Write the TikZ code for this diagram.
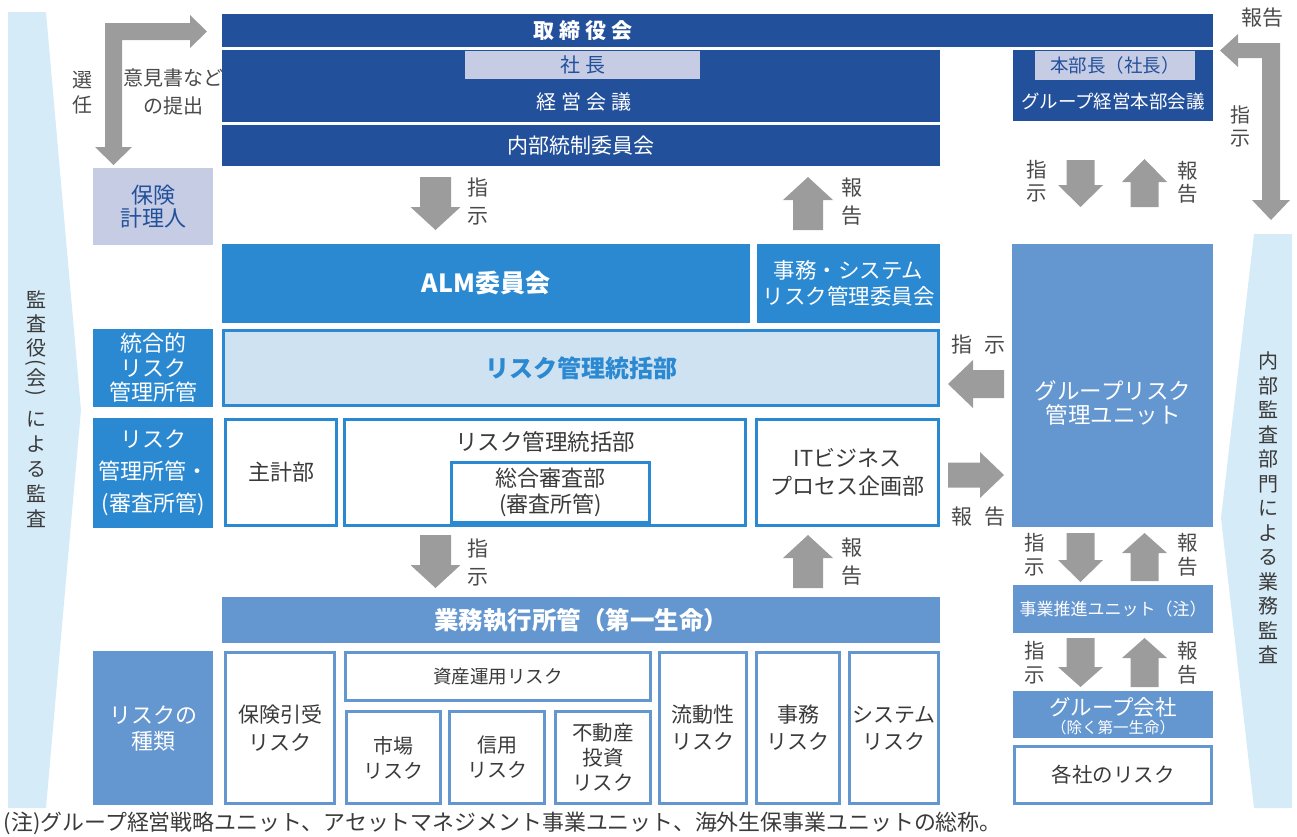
\documentclass[tikz,border=0pt]{standalone}
\usepackage{fontspec}
\setmainfont{Noto Sans CJK JP}
\newfontfamily\jpsp[LetterSpace=25]{Noto Sans CJK JP}
\definecolor{navy}{HTML}{23509B}
\definecolor{lav}{HTML}{C5CCE3}
\definecolor{bblue}{HTML}{2B89D2}
\definecolor{pale}{HTML}{CFE2F2}
\definecolor{mblue}{HTML}{6496D0}
\definecolor{garrc}{HTML}{9B9C9B}
\definecolor{bandc}{HTML}{D6EBF8}
\definecolor{tgray}{HTML}{3A3A3A}
\definecolor{lgray}{HTML}{4A4A4A}
\newcommand\fs[2]{\fontsize{#1}{#2}\selectfont}
\newcommand\bx[7]{\node[#6,anchor=north west,minimum width={#4-#2},minimum height={#5-#3}] (#1) at (#2,#3) {#7};}
\newcommand\bw[7]{\node[#6,anchor=north west,minimum width={#4-#2-3},minimum height={#5-#3-3}] (#1) at (#2,#3) {#7};}
\newcommand\varr[6]{\fill[garrow] (#1-#5,#2) -- (#1+#5,#2) -- (#1+#5,#3) -- (#1+#6,#3) -- (#1,#4) -- (#1-#6,#3) -- (#1-#5,#3) -- cycle;}
\newcommand\harr[6]{\fill[garrow] (#2,#1-#5) -- (#2,#1+#5) -- (#3,#1+#5) -- (#3,#1+#6) -- (#4,#1) -- (#3,#1-#6) -- (#3,#1-#5) -- cycle;}
\tikzset{
  base/.style={inner sep=0pt,outer sep=0pt,align=center},
  navybox/.style={base,fill=navy,text=white},
  lavbox/.style={base,fill=lav,text=navy},
  bbox/.style={base,fill=bblue,text=white},
  mbox/.style={base,fill=mblue,text=white},
  pbox/.style={base,draw=bblue,line width=3pt,outer sep=1.5pt,fill=pale,text=bblue},
  wbox/.style={base,draw=bblue,line width=3pt,outer sep=1.5pt,fill=white,text=tgray},
  wmbox/.style={base,draw=mblue,line width=3pt,outer sep=1.5pt,fill=white,text=tgray},
  wt/.style={base,text=white},
  lbl/.style={base,text=lgray},
  vch/.style={base,text=tgray,font=\fs{20}{24}},
  garrow/.style={fill=garrc},
  bandfill/.style={fill=bandc}
}
\begin{document}
\begin{tikzpicture}[x=1pt,y=-1pt]
\useasboundingbox (0,0) rectangle (1297,836);
% side bands
\fill[bandfill] (8,12) -- (46,12) -- (81,410) -- (46,808) -- (8,808) -- cycle;
\fill[bandfill] (1254,234) -- (1292,234) -- (1292,808) -- (1254,808) -- (1221,518) -- cycle;
\foreach \ch/\yy [count=\i] in {監/300,査/324,役/348,会/378,に/419,よ/444,る/469,監/494,査/519}
  \node[vch] (kansa\i) at (36,\yy) {\ch};
\node[vch,rotate=-90] (kansaL) at (36,363) {(};
\node[vch,rotate=-90] (kansaR) at (36,393) {)};
\node[base,text=tgray,font=\fs{20}{24.5}] (naibukansa) at (1268,508) {内\\部\\監\\査\\部\\門\\に\\よ\\る\\業\\務\\監\\査};
% top
\bx{torishimari}{222}{14}{1213}{47}{navybox}{}
\node[wt,font=\jpsp\bfseries\fs{21}{25}] (torit) at (583,31) {取締役会};
\bx{keiei}{222}{50}{940}{122}{navybox}{}
\bx{shacho}{465}{51}{700}{79}{lavbox,font=\jpsp\fs{20}{24}}{社長}
\node[wt,font=\jpsp\fs{20}{24}] (keieit) at (584,102) {経営会議};
\bx{naibu}{222}{125}{940}{166}{navybox,font=\fs{21}{24}}{内部統制委員会}
\bx{honbu}{1013}{50}{1213}{121}{navybox}{}
\bx{honbucho}{1035}{51}{1195}{80}{lavbox,font=\fs{18.5}{22}}{本部長（社長）}
\node[wt,font=\fs{18.5}{21}] (honbut) at (1113,102) {グループ経営本部会議};
\bx{hoken}{93}{168}{213}{245}{lavbox,font=\fs{22}{23.5}}{保険\\計理人}
% arrows top-left L
\fill[garrow] (105,23) -- (190,23) -- (190,15) -- (207,31.5) -- (190,48) -- (190,40) -- (122,40) -- (122,147) -- (132,147) -- (113.5,165) -- (95,147) -- (105,147) -- cycle;
\node[lbl,font=\fs{20}{25}] (senin) at (82,92.5) {選\\任};
\node[lbl,font=\fs{20}{28}] (ikensho) at (173,92) {意見書など\\の提出};
% top-right L
\fill[garrow] (1280,43) -- (1280,200) -- (1290,200) -- (1271,220) -- (1252,200) -- (1262,200) -- (1262,58) -- (1238,58) -- (1238,67) -- (1220,50.5) -- (1238,34) -- (1238,43) -- cycle;
\node[lbl,font=\fs{21}{24}] (hokokuTR) at (1262,18) {報告};
\node[lbl,font=\fs{20}{23}] (shijiTR) at (1240,126.5) {指\\示};
% middle
\bx{alm}{222}{244}{750}{323}{bbox,font=\bfseries\fs{25}{28}}{ALM委員会}
\bx{jimusys}{757}{244}{940}{323}{bbox,font=\fs{21.5}{26}}{事務・システム\\リスク管理委員会}
\bx{tougou}{93}{329}{213}{407}{bbox,font=\fs{22}{24.5}}{統合的\\リスク\\管理所管}
\bw{riskbig}{222}{329}{940}{407}{pbox,font=\bfseries\fs{24}{28}}{リスク管理統括部}
\bx{riskshokan}{93}{418}{213}{528}{bbox,font=\fs{22}{32}}{リスク\\管理所管・\\(審査所管)}
\bw{shukei}{224}{418}{338}{527}{wbox,font=\fs{22}{24}}{主計部}
\bw{rk2}{343}{418}{747}{527}{wbox}{}
\node[base,text=tgray,font=\fs{22.5}{24}] (rk2t) at (545,442) {リスク管理統括部};
\bw{sougou}{450}{461}{651}{524}{wbox,font=\fs{22}{26}}{総合審査部\\(審査所管)}
\bw{itbiz}{755}{418}{940}{527}{wbox,font=\fs{22}{27.5}}{ITビジネス\\プロセス企画部}
\bx{grisk}{1012}{244}{1213}{527}{mbox}{}
\node[wt,font=\fs{22.5}{24.5}] (griskt) at (1113,403) {グループリスク\\管理ユニット};
% block arrows middle
\varr{435.5}{177}{207}{230}{15.5}{25}
\node[lbl,font=\fs{21}{28}] (shiji1) at (478,202) {指\\示};
\varr{808}{230}{200}{177}{15}{25}
\node[lbl,font=\fs{21}{28}] (hokoku1) at (852,202) {報\\告};
\varr{435.5}{535}{565}{588}{15.5}{25}
\node[lbl,font=\fs{21}{28}] (shiji2) at (478,562) {指\\示};
\varr{808}{588}{558}{535}{15}{25}
\node[lbl,font=\fs{21}{28}] (hokoku2) at (852,562) {報\\告};
% horizontal arrows
\harr{384}{1004}{973}{948}{14}{24}
\node[lbl,font=\fs{21}{24}] (shiji3) at (978.5,345) {指\hspace{12pt}示};
\harr{475}{948}{980}{1004}{12.5}{23}
\node[lbl,font=\fs{21}{24}] (hokoku3) at (978.5,517) {報\hspace{12pt}告};
% right column arrows
\varr{1080.5}{160}{185}{207}{14}{22.5}
\varr{1144.5}{207}{182}{159}{14}{22.5}
\node[lbl,font=\fs{20.5}{23}] (shiji4) at (1037,181.5) {指\\示};
\node[lbl,font=\fs{20.5}{23}] (hokoku4) at (1188,182) {報\\告};
\varr{1080.5}{533}{560}{582}{14}{22.5}
\varr{1144.5}{581}{553}{533}{14}{22.5}
\node[lbl,font=\fs{20.5}{24}] (shiji5) at (1035,555) {指\\示};
\node[lbl,font=\fs{20.5}{24}] (hokoku5) at (1188,555) {報\\告};
\varr{1080.5}{638}{667}{687}{14}{22.5}
\varr{1144.5}{687}{658}{638}{14}{22.5}
\node[lbl,font=\fs{20.5}{24}] (shiji6) at (1035,663) {指\\示};
\node[lbl,font=\fs{20.5}{24}] (hokoku6) at (1188,663) {報\\告};
% bottom
\bx{gyomu}{222}{597}{940}{643}{mbox,font=\bfseries\fs{24.5}{28}}{業務執行所管（第一生命）}
\bx{shurui}{93}{651}{213}{805}{mbox,font=\fs{22}{26}}{リスクの\\種類}
\bw{hikiuke}{224}{651}{336}{805}{wmbox,font=\fs{21}{28}}{保険引受\\リスク}
\bw{shisan}{344}{651}{652}{702}{wmbox,font=\fs{18.5}{24}}{資産運用リスク}
\bw{ichiba}{345}{710}{442}{805}{wmbox,font=\fs{20}{25}}{市場\\リスク}
\bw{shinyo}{448}{710}{546}{805}{wmbox,font=\fs{20}{25}}{信用\\リスク}
\bw{fudosan}{554}{710}{652}{805}{wmbox,font=\fs{20.5}{25}}{不動産\\投資\\リスク}
\bw{ryudo}{658}{651}{748}{805}{wmbox,font=\fs{21}{27}}{流動性\\リスク}
\bw{jimu}{755}{651}{841}{805}{wmbox,font=\fs{21}{27}}{事務\\リスク}
\bw{system}{848}{651}{940}{805}{wmbox,font=\fs{21}{27}}{システム\\リスク}
% right column boxes
\bx{jigyo}{1013}{585}{1213}{633}{mbox,font=\fs{17}{20}}{事業推進ユニット（注）}
\bx{gkaisha}{1013}{691}{1213}{738}{mbox}{}
\node[wt,font=\fs{21.5}{22}] (gkaishat) at (1113,707) {グループ会社};
\node[wt,font=\fs{15.5}{18}] (gkaishat2) at (1113,728) {（除く第一生命）};
\bw{kakusha}{1013}{745}{1213}{805}{wmbox,font=\fs{20.5}{24}}{各社のリスク}
% footnote
\node[base,text=tgray,anchor=west,font=\fs{21.9}{24}] (note) at (4,823) {(注)グループ経営戦略ユニット、アセットマネジメント事業ユニット、海外生保事業ユニットの総称。};
\end{tikzpicture}
\end{document}
